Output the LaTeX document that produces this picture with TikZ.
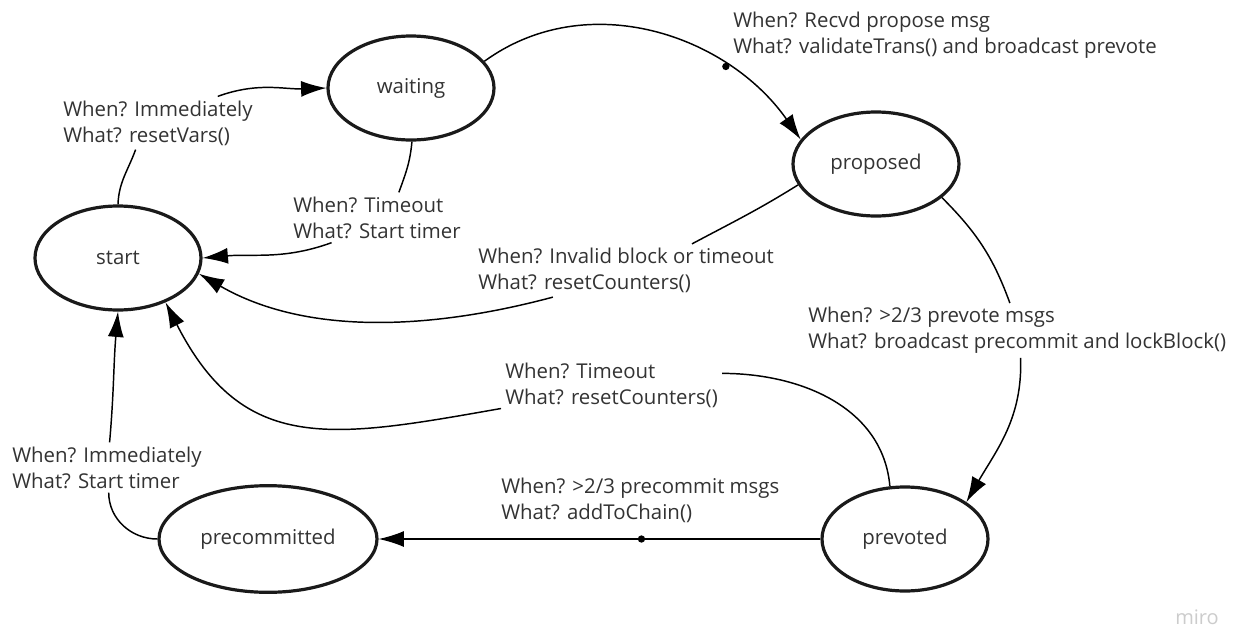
\documentclass[tikz,border=0pt]{standalone}
\usepackage{fontspec}
\setmainfont{Open Sans}
\usetikzlibrary{shapes.geometric,arrows.meta}
\definecolor{inkgray}{HTML}{333333}
\definecolor{rimgray}{HTML}{1A1A1A}

\begin{document}
\begin{tikzpicture}[
    x=0.75pt, y=0.75pt,
    state/.style={ellipse,draw=rimgray,line width=2.4pt,minimum width=124.5pt,minimum height=78pt,inner sep=0pt,text=inkgray,font=\fontsize{15.3}{19.5}\selectfont},
    cond/.style={anchor=west,align=left,inner sep=3pt,text=inkgray,font=\fontsize{15.3}{19.5}\selectfont},
    link/.style={line width=1.1pt},
    trans/.style={line width=1.1pt,-{Latex[length=19pt,width=12pt]}},
    joint/.style={circle,fill=black,inner sep=0pt,minimum size=5.5pt}
    ]

    \fill [white] (0,0) rectangle (1243,-629);
    \useasboundingbox (0,0) rectangle (1243,-629);

    % states
    \node (start) at (118,-258) [state] {start};
    \node (waiting) at (411,-88) [state] {waiting};
    \node (proposed) at (876,-164) [state] {proposed};
    \node (prevoted) at (905,-539) [state] {prevoted};
    \node (precommitted) at (268,-539) [state,minimum width=163.5pt,minimum height=80pt] {precommitted};

    % conditions
    \node (c1) at (59,-123) [cond] {When? Immediately\\What? resetVars()};
    \node (c2) at (289,-217.5) [cond] {When? Timeout\\What? Start timer};
    \node (c3) at (729,-35.5) [cond] {When? Recvd propose msg\\What? validateTrans() and broadcast prevote};
    \node (c4) at (474,-270.5) [cond] {When? Invalid block or timeout\\What? resetCounters()};
    \node (c5) at (804,-330.5) [cond] {When? >2/3 prevote msgs\\What? broadcast precommit and lockBlock()};
    \node (c6) at (501,-385) [cond] {When? Timeout\\What? resetCounters()};
    \node (c7) at (8,-467.5) [cond] {When? Immediately\\What? Start timer};
    \node (c8) at (497,-500) [cond] {When? >2/3 precommit msgs\\What? addToChain()};

    % transitions
    \draw [link] (start.90) to[out=88,in=-110] (c1.-130);
    \draw [trans] (c1.24) to[out=20,in=182] (waiting.180);
    \draw [link] (waiting.-89) to[out=-95,in=70] (c2.49);
    \draw [trans] (c2.-151) to[out=-160,in=5] (start.0);
    \draw [trans] (waiting.20) to[out=36,in=125] node[joint,pos=0.72] (d1) {} (proposed.162);
    \draw [link] (proposed.-165) to[out=-148,in=28] (c4.22);
    \draw [trans] (c4.-160) to[out=-165,in=-30,looseness=0.9] (start.-11);
    \draw [link] (proposed.-27) to[out=-45,in=110] (c5.105);
    \draw [trans] (c5.-83) to[out=-88,in=60] (prevoted.31);
    \draw [link] (prevoted.106) to[out=95,in=0] (c6.6);
    \draw [trans] (c6.-168) to[out=-170,in=-63,looseness=1.25] (start.-43);
    \draw [link] (precommitted.180) to[out=180,in=-90] (c7.-86);
    \draw [trans] (c7.84) to[out=85,in=-95] (start.-90);
    \draw [trans] (prevoted.180) -- node[joint,pos=0.405] (d2) {} (precommitted.0);

    \node (brand) at (1197,-624) [anchor=base,inner sep=0pt,text=gray!40,font=\fontsize{15}{15}\selectfont] {miro};

\end{tikzpicture}
\end{document}
